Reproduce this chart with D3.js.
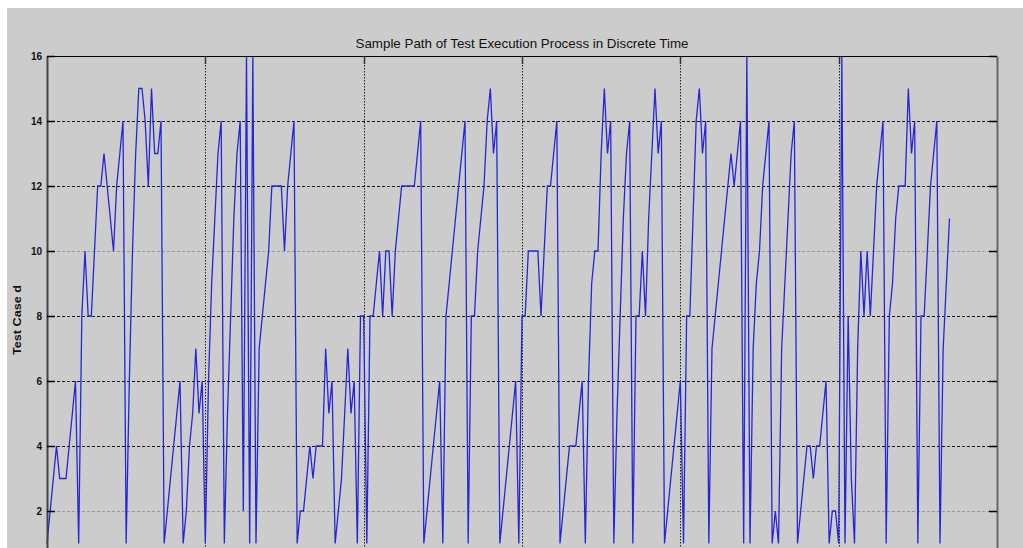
<!DOCTYPE html>
<html>
<head>
<meta charset="utf-8">
<script src="https://cdn.jsdelivr.net/npm/d3@7"></script>
<style>
  body { margin: 0; background: #fff; }
  text { font-family: Arial, "Liberation Sans", sans-serif; }
</style>
</head>
<body>
<script>
// test case index d at each discrete time step (x = step number)
const testCase = [
  1, 2, 3, 4, 3, 3, 3, 4, 5, 6, 1,
  8, 10, 8, 8, 10, 12, 12, 13, 12, 11, 10, 12, 13, 14, 1,
  6, 10, 13, 15, 15, 14, 12, 15, 13, 13, 14, 1,
  2, 3, 4, 5, 6, 1, 2, 4, 5, 7, 5, 6, 1,
  6, 9, 11, 13, 14, 1,
  5, 8, 11, 13, 14, 2, 16, 1, 16, 1,
  7, 8, 9, 10, 12, 12, 12, 12, 10, 12, 13, 14, 1,
  2, 2, 3, 4, 3, 4, 4, 4, 7, 5, 6, 1,
  2, 3, 5, 7, 5, 6, 1, 8, 8, 1,
  8, 8, 9, 10, 8, 10, 10, 8, 10, 11, 12, 12, 12, 12, 12, 13, 14, 1,
  2, 3, 4, 5, 6, 1,
  8, 9, 10, 11, 12, 13, 14, 1,
  8, 8, 10, 11, 12, 14, 15, 13, 14, 1,
  2, 3, 4, 5, 6, 1,
  8, 8, 10, 10, 10, 10, 8, 10, 12, 12, 13, 14, 1,
  2, 3, 4, 4, 4, 5, 6, 1,
  6, 9, 10, 10, 13, 15, 13, 14, 1,
  5, 8, 11, 13, 14, 1,
  8, 8, 10, 8, 11, 13, 15, 13, 14, 1,
  2, 3, 4, 5, 6, 1,
  8, 8, 11, 14, 15, 13, 14, 1,
  7, 8, 9, 10, 11, 12, 13, 12, 13, 14, 1, 16, 1,
  7, 9, 10, 12, 13, 14, 1, 2, 1,
  7, 9, 11, 13, 14, 1,
  2, 3, 4, 4, 3, 4, 4, 5, 6, 1, 2, 2, 1,
  16, 1, 8, 3, 1,
  7, 10, 8, 10, 8, 10, 12, 13, 14, 1,
  8, 9, 11, 12, 12, 12, 15, 13, 14, 1,
  8, 8, 10, 12, 13, 14, 1,
  7, 9, 11
];
const yTicks = [2, 4, 6, 8, 10, 12, 14, 16];
const xGrid = [50, 100, 150, 200, 250];
const titleText = "Sample Path of Test Execution Process in Discrete Time";
const yLabel = "Test Case d";

const width = 1023;
const height = 548;
const margin = { left: 47, top: 56, right: 26 };
const plotW = width - margin.left - margin.right;   // 950
const plotH = 520;                                    // bottom falls below the picture

const svg = d3.select("body").append("svg").attr("width", width).attr("height", height);

// figure background
svg.append("rect").attr("x", 7).attr("y", 8).attr("width", width - 7).attr("height", height - 8)
  .attr("fill", "#cccccc");

const xScale = d3.scaleLinear().domain([0, 300]).range([margin.left, margin.left + plotW]);
const yScale = d3.scaleLinear().domain([0, 16]).range([margin.top + plotH, margin.top]);

const g = svg.append("g");

// horizontal grid (dashed)
g.selectAll(".hgrid").data(yTicks.filter(d => d < 16)).enter().append("line")
  .attr("x1", xScale(0)).attr("x2", xScale(300))
  .attr("y1", d => yScale(d) + 0.5).attr("y2", d => yScale(d) + 0.5)
  .attr("stroke", d => (d === 10 || d === 2) ? "#9a9a9a" : "#111")
  .attr("stroke-width", 1.2)
  .attr("stroke-dasharray", "3,2");

// vertical grid (dotted)
g.selectAll(".vgrid").data(xGrid).enter().append("line")
  .attr("x1", d => Math.round(xScale(d)) + 0.5).attr("x2", d => Math.round(xScale(d)) + 0.5)
  .attr("y1", yScale(16)).attr("y2", height)
  .attr("stroke", "#222").attr("stroke-width", 1)
  .attr("stroke-dasharray", "1.5,1.5");

// top ticks on the vertical grid lines
g.selectAll(".xtick").data(xGrid).enter().append("line")
  .attr("x1", d => Math.round(xScale(d)) + 0.5).attr("x2", d => Math.round(xScale(d)) + 0.5)
  .attr("y1", yScale(16)).attr("y2", yScale(16) + 8)
  .attr("stroke", "#333").attr("stroke-width", 1.5);

// the sample path
const line = d3.line()
  .x((d, i) => xScale(i))
  .y(d => yScale(d));

g.append("path")
  .datum(testCase)
  .attr("d", line)
  .attr("fill", "none")
  .attr("stroke", "#2626d6")
  .attr("stroke-width", 1.3);

// left axis with inward ticks
const axisy = d3.axisLeft(yScale).tickValues(yTicks).tickSizeInner(-8).tickSizeOuter(0).tickPadding(5);
const ay = svg.append("g").attr("transform", "translate(" + margin.left + ",0)").call(axisy);
ay.select(".domain").attr("stroke", "#444").attr("stroke-width", 2);
ay.selectAll(".tick line").attr("stroke", "#000").attr("stroke-width", 1.5);
ay.selectAll(".tick text").attr("font-size", 10).attr("font-weight", "bold").attr("fill", "#111")
  .attr("font-family", "Arial, 'Liberation Sans', sans-serif");

// right axis ticks
const axisr = d3.axisRight(yScale).tickValues(yTicks).tickSizeInner(-8).tickSizeOuter(0).tickFormat("");
const ar = svg.append("g").attr("transform", "translate(" + (margin.left + plotW) + ",0)").call(axisr);
ar.select(".domain").attr("stroke", "#666").attr("stroke-width", 2);
ar.selectAll(".tick line").attr("stroke", "#000").attr("stroke-width", 1.5);

// top border
svg.append("line")
  .attr("x1", margin.left).attr("x2", margin.left + plotW)
  .attr("y1", margin.top + 0.5).attr("y2", margin.top + 0.5)
  .attr("stroke", "#000").attr("stroke-width", 1.2);

// title
svg.append("text")
  .attr("x", 522).attr("y", 48)
  .attr("text-anchor", "middle")
  .attr("font-size", 13)
  .attr("textLength", 333).attr("lengthAdjust", "spacingAndGlyphs")
  .attr("fill", "#111")
  .text(titleText);

// y label
svg.append("text")
  .attr("transform", "translate(21,320) rotate(-90)")
  .attr("text-anchor", "middle")
  .attr("font-size", 10).attr("font-weight", "bold")
  .attr("textLength", 70).attr("lengthAdjust", "spacingAndGlyphs")
  .attr("fill", "#111")
  .text(yLabel);
</script>
</body>
</html>
